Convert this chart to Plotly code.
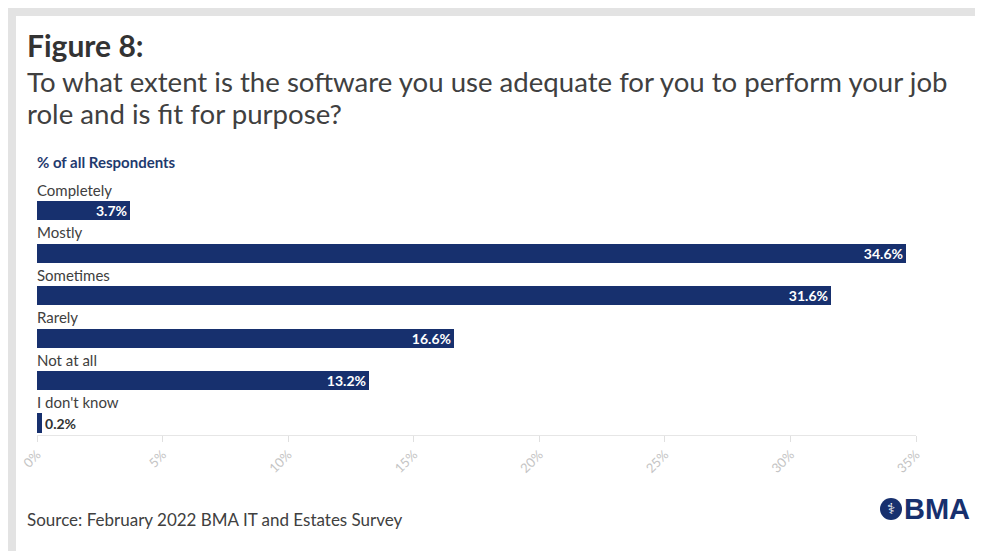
import plotly.graph_objects as go

categories = ["Completely", "Mostly", "Sometimes", "Rarely", "Not at all", "I don't know"]
values = [3.7, 34.6, 31.6, 16.6, 13.2, 0.2]
tick_vals = [0, 5, 10, 15, 20, 25, 30, 35]
tick_text = ["0%", "5%", "10%", "15%", "20%", "25%", "30%", "35%"]

# the page body adds an 8px offset; design in reference pixel coordinates and shift
O = 8
W, H = 983 - O, 551 - O
L, R, T, B = 37, 916, 179, 435  # plot area in reference pixels
NAVY = "#17306e"
TXT = "#404040"
FONT = "Lato, 'Open Sans', sans-serif"


def px(x):
    return (x - L) / (R - L)


def py(y):
    return (B - y) / (B - T)


fig = go.Figure()
fig.add_trace(go.Bar(
    x=values,
    y=list(range(len(categories))),
    orientation="h",
    marker=dict(color=NAVY, line=dict(width=0)),
    width=0.45,
    text=[f"{v:.1f}%" for v in values],
    textposition=["inside"] * 5 + ["outside"],
    insidetextanchor="end",
    constraintext="none",
    insidetextfont=dict(color="white", size=14, family=FONT, weight="bold"),
    outsidetextfont=dict(color="#333333", size=14, family=FONT, weight="bold"),
    cliponaxis=False,
    hoverinfo="skip",
))

annotations = []
for i, c in enumerate(categories):
    annotations.append(dict(
        x=0, y=i, xref="x", yref="y", text=c, showarrow=False,
        xanchor="left", yanchor="middle", xshift=-2, yshift=21,
        font=dict(size=15, color=TXT, family=FONT),
    ))

annotations += [
    dict(x=px(25), y=py(45), xref="paper", yref="paper", text="<b>Figure 8:</b>",
         showarrow=False, xanchor="left", yanchor="middle",
         font=dict(size=30, color="#333333", family=FONT)),
    dict(x=px(25), y=py(81), xref="paper", yref="paper",
         text="To what extent is the software you use adequate for you to perform your job",
         showarrow=False, xanchor="left", yanchor="middle",
         font=dict(size=27.6, color=TXT, family=FONT)),
    dict(x=px(25), y=py(113), xref="paper", yref="paper",
         text="role and is fit for purpose?",
         showarrow=False, xanchor="left", yanchor="middle",
         font=dict(size=27.6, color=TXT, family=FONT)),
    dict(x=px(35), y=py(162), xref="paper", yref="paper",
         text="<b>% of all Respondents</b>",
         showarrow=False, xanchor="left", yanchor="middle",
         font=dict(size=15, color="#1f3a6e", family=FONT)),
    dict(x=px(25), y=py(519), xref="paper", yref="paper",
         text="Source: February 2022 BMA IT and Estates Survey",
         showarrow=False, xanchor="left", yanchor="middle",
         font=dict(size=17, color=TXT, family=FONT)),
    dict(x=px(902), y=py(509), xref="paper", yref="paper", text="<b>BMA</b>",
         showarrow=False, xanchor="left", yanchor="middle",
         font=dict(size=29, color=NAVY, family="Liberation Sans, Arial, sans-serif")),
    dict(x=px(891), y=py(509), xref="paper", yref="paper", text="⚕",
         showarrow=False, xanchor="center", yanchor="middle",
         font=dict(size=15, color="white", family="DejaVu Sans")),
]

shapes = [
    dict(type="rect", xref="paper", yref="paper", x0=px(8), x1=px(16), y0=py(560), y1=py(8),
         fillcolor="#e3e3e3", line=dict(width=0), layer="below"),
    dict(type="rect", xref="paper", yref="paper", x0=px(8), x1=px(990), y0=py(16), y1=py(8),
         fillcolor="#e3e3e3", line=dict(width=0), layer="below"),
    dict(type="circle", xref="paper", yref="paper", x0=px(880), x1=px(902), y0=py(520), y1=py(498),
         fillcolor=NAVY, line=dict(width=0)),
]

fig.update_layout(
    width=W, height=H,
    margin=dict(l=L - O, r=983 - R, t=T - O, b=551 - B, pad=0),
    paper_bgcolor="white", plot_bgcolor="white",
    showlegend=False,
    annotations=annotations,
    shapes=shapes,
    bargap=0,
    xaxis=dict(
        range=[0, 35], tickvals=tick_vals, ticktext=tick_text,
        showgrid=False, zeroline=False,
        showline=True, linecolor="#e6e6e6", linewidth=1,
        ticks="outside", ticklen=6, tickcolor="#e0e0e0",
        tickangle=-45, tickfont=dict(size=13, color="#c4c4c4", family=FONT),
        fixedrange=True,
    ),
    yaxis=dict(
        range=[5.283, -0.75], showticklabels=False, showgrid=False,
        zeroline=False, showline=False, ticks="", fixedrange=True,
    ),
)

fig.write_html("out.html")
